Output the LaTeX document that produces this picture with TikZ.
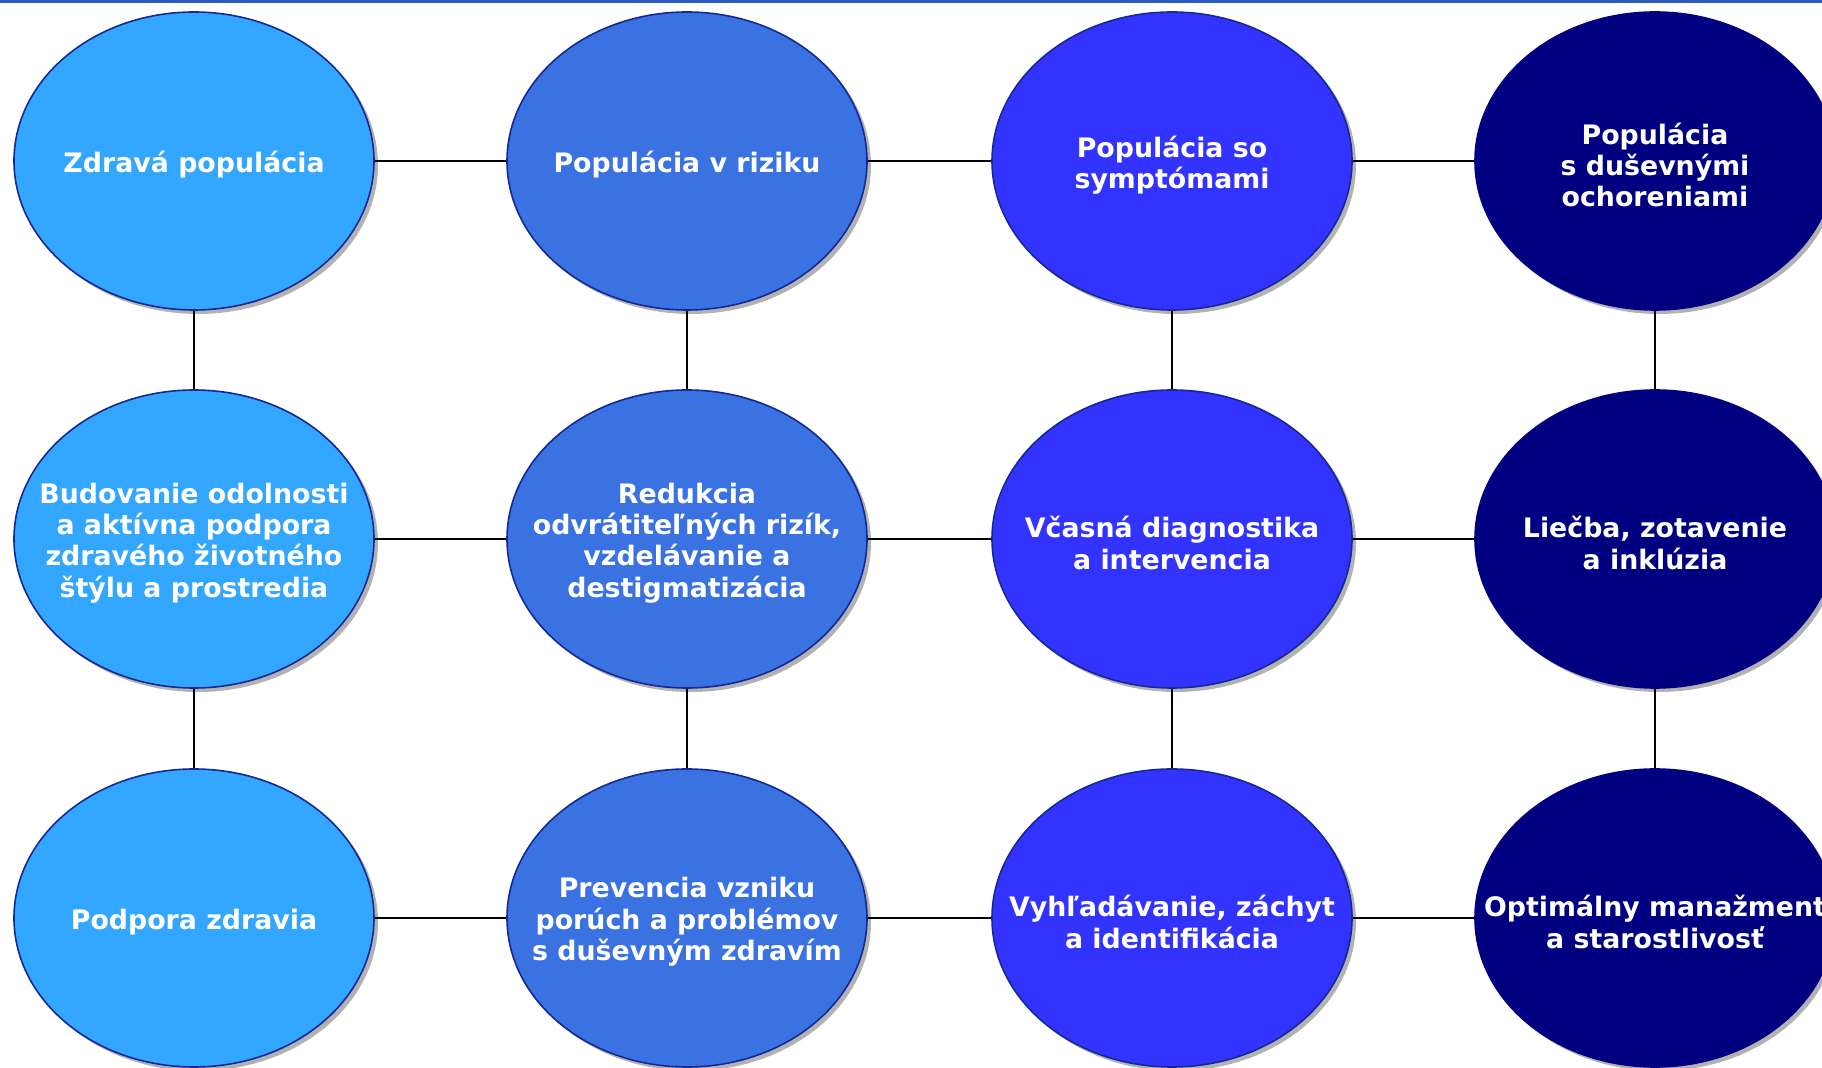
\documentclass[tikz,border=0pt]{standalone}
\usepackage{fontspec}
\setmainfont{DejaVu Sans}
\usetikzlibrary{positioning, shapes.geometric, shadows}

\definecolor{zdravie}{RGB}{51,166,255}
\definecolor{riziko}{RGB}{58,114,226}
\definecolor{symptom}{RGB}{51,51,255}
\definecolor{ochorenie}{RGB}{0,0,128}
\definecolor{okraj}{RGB}{20,40,150}
\definecolor{linka}{RGB}{42,92,192}

\begin{document}
\begin{tikzpicture}[
        x=0.5pt, y=-0.5pt,
        bubble/.style={ellipse, draw=okraj, line width=0.8pt, minimum width=180pt, minimum height=149pt,
            inner sep=0pt,
            drop shadow={shadow xshift=2pt, shadow yshift=-2pt, fill=black, opacity=0.3}},
        bubbletext/.style={align=center, text=white, inner sep=0pt, yshift=-2pt,
            font=\bfseries\fontsize{13.4}{15.7}\selectfont},
        conn/.style={draw=black, line width=0.7pt},
    ]
        \useasboundingbox (0,0) rectangle (1822,1068);
        \clip (0,0) rectangle (1822,1068);
        \fill[linka] (0,0) rectangle (1822,3);

        % Populations in the top row
        \node[bubble, fill=zdravie, label={[bubbletext]center:{Zdravá populácia}}] (P-1) at (194,161) {};
        \node[bubble, fill=riziko, label={[bubbletext]center:{Populácia v riziku}}] (P-2) at (687,161) {};
        \node[bubble, fill=symptom, label={[bubbletext]center:{Populácia so\\symptómami}}] (P-3) at (1172,161) {};
        \node[bubble, fill=ochorenie, draw=ochorenie, label={[bubbletext]center:{Populácia\\s duševnými\\ochoreniami}}] (P-4) at (1655,161) {};

        % Interventions in the middle row
        \node[bubble, fill=zdravie, label={[bubbletext]center:{Budovanie odolnosti\\a aktívna podpora\\zdravého životného\\štýlu a prostredia}}] (I-1) at (194,539) {};
        \node[bubble, fill=riziko, label={[bubbletext]center:{Redukcia\\odvrátiteľných rizík,\\vzdelávanie a\\destigmatizácia}}] (I-2) at (687,539) {};
        \node[bubble, fill=symptom, label={[bubbletext]center:{Včasná diagnostika\\a intervencia}}] (I-3) at (1172,539) {};
        \node[bubble, fill=ochorenie, draw=ochorenie, label={[bubbletext]center:{Liečba, zotavenie\\a inklúzia}}] (I-4) at (1655,539) {};

        % Services in the bottom row
        \node[bubble, fill=zdravie, label={[bubbletext]center:{Podpora zdravia}}] (S-1) at (194,918) {};
        \node[bubble, fill=riziko, label={[bubbletext]center:{Prevencia vzniku\\porúch a problémov\\s duševným zdravím}}] (S-2) at (687,918) {};
        \node[bubble, fill=symptom, label={[bubbletext]center:{Vyhľadávanie, záchyt\\a identifikácia}}] (S-3) at (1172,918) {};
        \node[bubble, fill=ochorenie, draw=ochorenie, label={[bubbletext]center:{Optimálny manažment\\a starostlivosť}}] (S-4) at (1655,918) {};

        % Connect the rows
        \foreach \i / \j in {1/2, 2/3, 3/4}
            \foreach \row in {P, I, S}
                \path[conn] (\row-\i) -- (\row-\j);

        % Connect the columns
        \foreach \i in {1,...,4} {
            \path[conn] (P-\i) -- (I-\i);
            \path[conn] (I-\i) -- (S-\i);
        }
\end{tikzpicture}
\end{document}
